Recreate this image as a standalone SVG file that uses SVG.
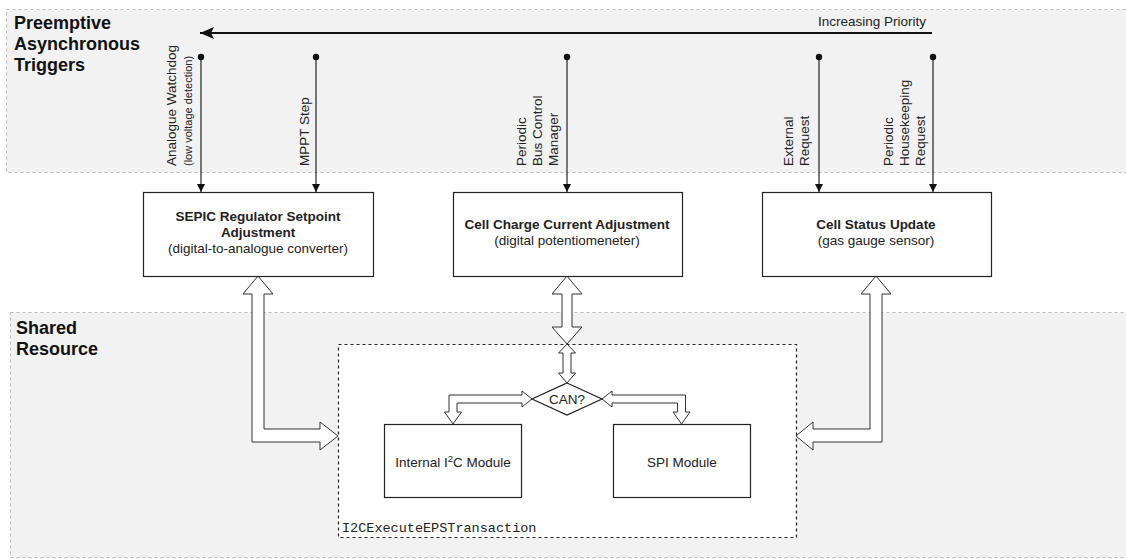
<svg xmlns="http://www.w3.org/2000/svg" width="1126" height="559" viewBox="0 0 1126 559">
<style>
.band{fill:#f2f2f2;stroke:#bdbdbd;stroke-width:1;stroke-dasharray:3 3}
.title{font-family:"Liberation Sans",Arial,sans-serif;font-size:18px;font-weight:bold;fill:#111}
.lbl{font-family:"Liberation Sans",Arial,sans-serif;font-size:13.5px;fill:#222}
.small{font-family:"Liberation Sans",Arial,sans-serif;font-size:11px;fill:#222}
.b{font-weight:bold}
.box{fill:#fff;stroke:#222;stroke-width:1.2}
.fat{fill:#fff;stroke:#333;stroke-width:1}
.trig{stroke:#222;stroke-width:1.2;fill:none}
.mono{font-family:"Liberation Mono","Courier New",monospace;font-size:13.5px;fill:#222}
</style>
<defs>
<marker id="ah" markerUnits="userSpaceOnUse" markerWidth="10" markerHeight="10" refX="9" refY="5" orient="auto">
<path d="M1,1 L9,5 L1,9 z" fill="#111"/>
</marker>
<marker id="dot" markerUnits="userSpaceOnUse" markerWidth="8" markerHeight="8" refX="4" refY="4">
<circle cx="4" cy="4" r="3.2" fill="#111"/>
</marker>
<marker id="big" markerUnits="userSpaceOnUse" markerWidth="16" markerHeight="14" refX="15" refY="7" orient="auto">
<path d="M1,1 L15,7 L1,13 L4,7 z" fill="#111"/>
</marker>
</defs>

<g id="band-triggers">
<rect class="band" x="6.5" y="9.5" width="1130" height="163"/>
<text class="title" x="14" y="29">Preemptive</text>
<text class="title" x="14" y="50">Asynchronous</text>
<text class="title" x="14" y="71">Triggers</text>
</g>
<g id="band-shared">
<rect class="band" x="10.5" y="312.5" width="1130" height="245"/>
<text class="title" x="16" y="334">Shared</text>
<text class="title" x="16" y="355">Resource</text>
</g>

<g id="priority">
<line x1="932" y1="33" x2="200" y2="33" stroke="#111" stroke-width="2" marker-end="url(#big)"/>
<text class="lbl" x="926" y="26" text-anchor="end">Increasing Priority</text>
</g>

<g id="container">
<rect x="338.5" y="344.5" width="458" height="193" fill="#fff" stroke="#222" stroke-width="1.2" stroke-dasharray="3 3"/>
<text class="mono" x="342" y="532">I2CExecuteEPSTransaction</text>
</g>

<g id="connectors">
<line class="trig" x1="201" y1="57" x2="201" y2="192" marker-start="url(#dot)" marker-end="url(#ah)"/>
<line class="trig" x1="316" y1="57" x2="316" y2="192" marker-start="url(#dot)" marker-end="url(#ah)"/>
<line class="trig" x1="567" y1="57" x2="567" y2="192" marker-start="url(#dot)" marker-end="url(#ah)"/>
<line class="trig" x1="819" y1="57" x2="819" y2="192" marker-start="url(#dot)" marker-end="url(#ah)"/>
<line class="trig" x1="933" y1="57" x2="933" y2="192" marker-start="url(#dot)" marker-end="url(#ah)"/>
<polygon class="fat" points="258,276 273,294 264,294 264,429 320,429 320,422 338,436 320,450 320,442 252,442 252,294 243,294"/>
<polygon class="fat" points="876,276 891,294 882,294 882,442 813,442 813,450 796,436 813,422 813,429 870,429 870,294 861,294"/>
<polygon class="fat" points="567,276 582,294 572,294 572,327 582,327 567,344 552,327 562,327 562,294 552,294"/>
<polygon class="fat" points="567,344 575.5,353 571,353 571,373 575.5,373 567,383 558.5,373 563,373 563,353 558.5,353"/>
<polygon class="fat" points="532,399 522,391 522,395 449,395 449,412 444.5,412 453,424 461.5,412 457,412 457,403 522,403 522,407"/>
<polygon class="fat" points="602,399 612,391 612,395 685.5,395 685.5,412 690,412 681.5,424 673,412 677.5,412 677.5,403 612,403 612,407"/>
</g>

<g id="trigger-labels">
<text class="lbl" transform="translate(176,166) rotate(-90)">Analogue Watchdog</text>
<text class="small" transform="translate(192,166) rotate(-90)">(low voltage detection)</text>
<text class="lbl" transform="translate(309,166) rotate(-90)">MPPT Step</text>
<text class="lbl" transform="translate(526,166) rotate(-90)">Periodic</text>
<text class="lbl" transform="translate(542,166) rotate(-90)">Bus Control</text>
<text class="lbl" transform="translate(558,166) rotate(-90)">Manager</text>
<text class="lbl" transform="translate(793,166) rotate(-90)">External</text>
<text class="lbl" transform="translate(809,166) rotate(-90)">Request</text>
<text class="lbl" transform="translate(893,166) rotate(-90)">Periodic</text>
<text class="lbl" transform="translate(909,166) rotate(-90)">Housekeeping</text>
<text class="lbl" transform="translate(925,166) rotate(-90)">Request</text>
</g>

<g id="node-sepic">
<rect class="box" x="143.5" y="192.5" width="230" height="84"/>
<text class="lbl b" x="258" y="221" text-anchor="middle">SEPIC Regulator Setpoint</text>
<text class="lbl b" x="258" y="237" text-anchor="middle">Adjustment</text>
<text class="lbl" x="258" y="253" text-anchor="middle">(digital-to-analogue converter)</text>
</g>
<g id="node-charge">
<rect class="box" x="453.5" y="192.5" width="229" height="84"/>
<text class="lbl b" x="567" y="229" text-anchor="middle">Cell Charge Current Adjustment</text>
<text class="lbl" x="567" y="245" text-anchor="middle">(digital potentiomeneter)</text>
</g>
<g id="node-status">
<rect class="box" x="762.5" y="192.5" width="229" height="84"/>
<text class="lbl b" x="876" y="229" text-anchor="middle">Cell Status Update</text>
<text class="lbl" x="876" y="245" text-anchor="middle">(gas gauge sensor)</text>
</g>
<g id="node-can">
<polygon class="box" points="567,383 602,399 567,415 532,399"/>
<text class="lbl" x="567" y="404" text-anchor="middle">CAN?</text>
</g>
<g id="node-i2c">
<rect class="box" x="384.5" y="424.5" width="137" height="73"/>
<text class="lbl" x="453" y="467" text-anchor="middle">Internal I<tspan dy="-5" font-size="9.5">2</tspan><tspan dy="5">C Module</tspan></text>
</g>
<g id="node-spi">
<rect class="box" x="613.5" y="424.5" width="137" height="73"/>
<text class="lbl" x="682" y="467" text-anchor="middle">SPI Module</text>
</g>
</svg>
